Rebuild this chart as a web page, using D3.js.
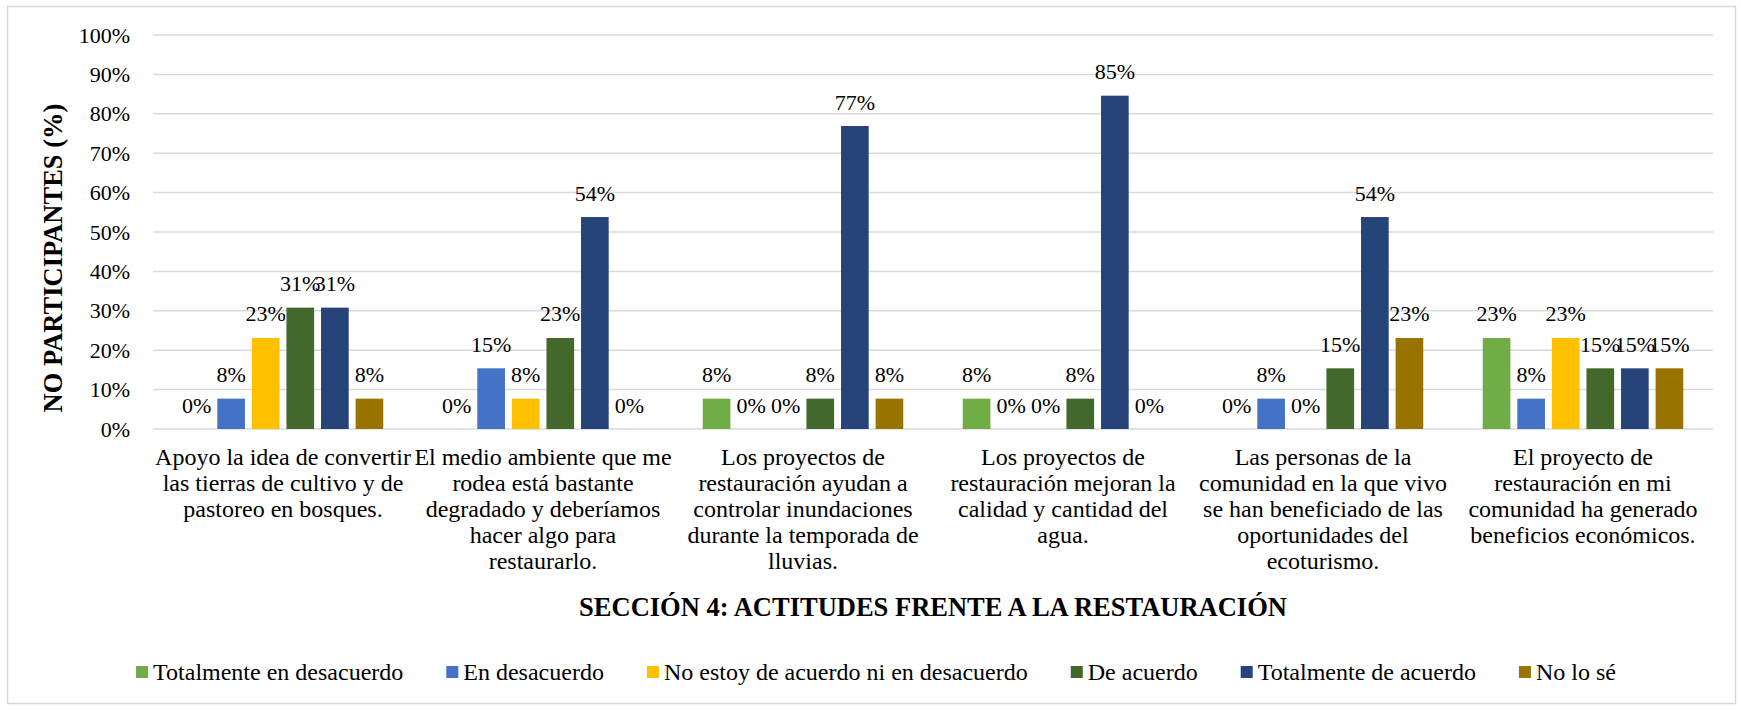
<!DOCTYPE html>
<html>
<head>
<meta charset="utf-8">
<script src="https://cdn.jsdelivr.net/npm/d3@7"></script>
<style>
  body { margin: 0; background: #fff; }
  text { font-family: "Liberation Serif", "Times New Roman", serif; fill: #000; }
</style>
</head>
<body>
<svg></svg>
<script>
const categories = [
    ["Apoyo la idea de convertir", "las tierras de cultivo y de", "pastoreo en bosques."],
    ["El medio ambiente que me", "rodea está bastante", "degradado y deberíamos", "hacer algo para", "restaurarlo."],
    ["Los proyectos de", "restauración ayudan a", "controlar inundaciones", "durante la temporada de", "lluvias."],
    ["Los proyectos de", "restauración mejoran la", "calidad y cantidad del", "agua."],
    ["Las personas de la", "comunidad en la que vivo", "se han beneficiado de las", "oportunidades del", "ecoturismo."],
    ["El proyecto de", "restauración en mi", "comunidad ha generado", "beneficios económicos."]
];
const seriesNames = ["Totalmente en desacuerdo", "En desacuerdo", "No estoy de acuerdo ni en desacuerdo",
    "De acuerdo", "Totalmente de acuerdo", "No lo sé"];
const seriesColors = ["#70ad47", "#4472c4", "#ffc000", "#43682b", "#264478", "#997300"];

const totalDesacuerdo = [0, 0, 7.7, 7.7, 0, 23.1];
const enDesacuerdo = [7.7, 15.4, 0, 0, 7.7, 7.7];
const niAcuerdo = [23.1, 7.7, 0, 0, 0, 23.1];
const deAcuerdo = [30.8, 23.1, 7.7, 7.7, 15.4, 15.4];
const totalAcuerdo = [30.8, 53.8, 76.9, 84.6, 53.8, 15.4];
const noSe = [7.7, 0, 7.7, 0, 23.1, 15.4];
const seriesValues = [totalDesacuerdo, enDesacuerdo, niAcuerdo, deAcuerdo, totalAcuerdo, noSe];

const yTicks = [0, 10, 20, 30, 40, 50, 60, 70, 80, 90, 100];

const svgWidth = 1741;
const svgHeight = 710;
const svg = d3.select("svg").attr("width", svgWidth).attr("height", svgHeight);

// outer chart border
svg.append("rect")
    .attr("x", 7.5).attr("y", 6.5)
    .attr("width", 1728).attr("height", 697)
    .attr("fill", "#fff")
    .attr("stroke", "#d9d9d9")
    .attr("stroke-width", 1.5);

const plot = {left: 153, right: 1713, top: 35, bottom: 429};

const x0 = d3.scaleBand()
    .domain(d3.range(categories.length))
    .range([plot.left, plot.right]);

const x1 = d3.scaleBand()
    .domain(d3.range(seriesNames.length))
    .range([0, x0.bandwidth()])
    .paddingInner(0.2)
    .paddingOuter(0.86);

const y = d3.scaleLinear()
    .domain([0, 100])
    .range([plot.bottom, plot.top]);

// gridlines
svg.append("g")
    .selectAll("line")
    .data(yTicks)
    .join("line")
    .attr("x1", plot.left).attr("x2", plot.right)
    .attr("y1", (d) => y(d)).attr("y2", (d) => y(d))
    .attr("stroke", "#d9d9d9")
    .attr("stroke-width", 1.5);

// y axis labels
const yAxis = svg.append("g")
    .attr("transform", `translate(${plot.left - 23},0)`)
    .call(d3.axisLeft(y).tickValues(yTicks).tickFormat((d) => d + "%").tickSize(0).tickPadding(0));
yAxis.select(".domain").remove();
yAxis.selectAll("text")
    .attr("font-size", 22)
    .attr("font-family", "Liberation Serif")
    .attr("fill", "#000");

// bars
const rows = [];
seriesValues.forEach((vals, s) => {
    vals.forEach((v, c) => rows.push({s, c, v}));
});

svg.append("g")
    .selectAll("rect")
    .data(rows)
    .join("rect")
    .attr("x", (d) => x0(d.c) + x1(d.s))
    .attr("width", x1.bandwidth())
    .attr("y", (d) => y(d.v))
    .attr("height", (d) => y(0) - y(d.v))
    .attr("fill", (d) => seriesColors[d.s]);

// data labels
svg.append("g")
    .selectAll("text")
    .data(rows)
    .join("text")
    .attr("x", (d) => x0(d.c) + x1(d.s) + x1.bandwidth() / 2)
    .attr("y", (d) => y(d.v) - 16.5)
    .attr("text-anchor", "middle")
    .attr("font-size", 22)
    .text((d) => Math.round(d.v) + "%");

// category labels
const catG = svg.append("g")
    .selectAll("text")
    .data(categories)
    .join("text")
    .attr("text-anchor", "middle")
    .attr("font-size", 24)
    .attr("y", 465);
catG.selectAll("tspan")
    .data((d, i) => d.map((line) => ({line, i})))
    .join("tspan")
    .attr("x", (d) => x0(d.i) + x0.bandwidth() / 2)
    .attr("dy", (d, j) => j === 0 ? 0 : 26)
    .text((d) => d.line);

// x axis title
svg.append("text")
    .attr("x", (plot.left + plot.right) / 2)
    .attr("y", 616)
    .attr("text-anchor", "middle")
    .attr("font-size", 26.5)
    .attr("font-weight", "bold")
    .text("SECCIÓN 4: ACTITUDES FRENTE A LA RESTAURACIÓN");

// y axis title
svg.append("text")
    .attr("transform", `translate(62,${(plot.top + plot.bottom) / 2 + 26}) rotate(-90)`)
    .attr("text-anchor", "middle")
    .attr("font-size", 26.5)
    .attr("font-weight", "bold")
    .text("NO PARTICIPANTES (%)");

// legend
const legend = svg.append("g");
const items = legend.selectAll("g")
    .data(seriesNames)
    .join("g");
items.append("rect")
    .attr("width", 12).attr("height", 12)
    .attr("y", 666)
    .attr("fill", (d, i) => seriesColors[i]);
items.append("text")
    .attr("x", 17)
    .attr("y", 680)
    .attr("font-size", 24)
    .text((d) => d);

let offset = 0;
const offsets = [];
items.each(function () {
    offsets.push(offset);
    const w = d3.select(this).select("text").node().getComputedTextLength();
    offset += 17 + w + 43;
});
const legendWidth = offset - 43;
const legendStart = 876 - legendWidth / 2;
items.attr("transform", (d, i) => `translate(${legendStart + offsets[i]},0)`);
</script>
</body>
</html>
